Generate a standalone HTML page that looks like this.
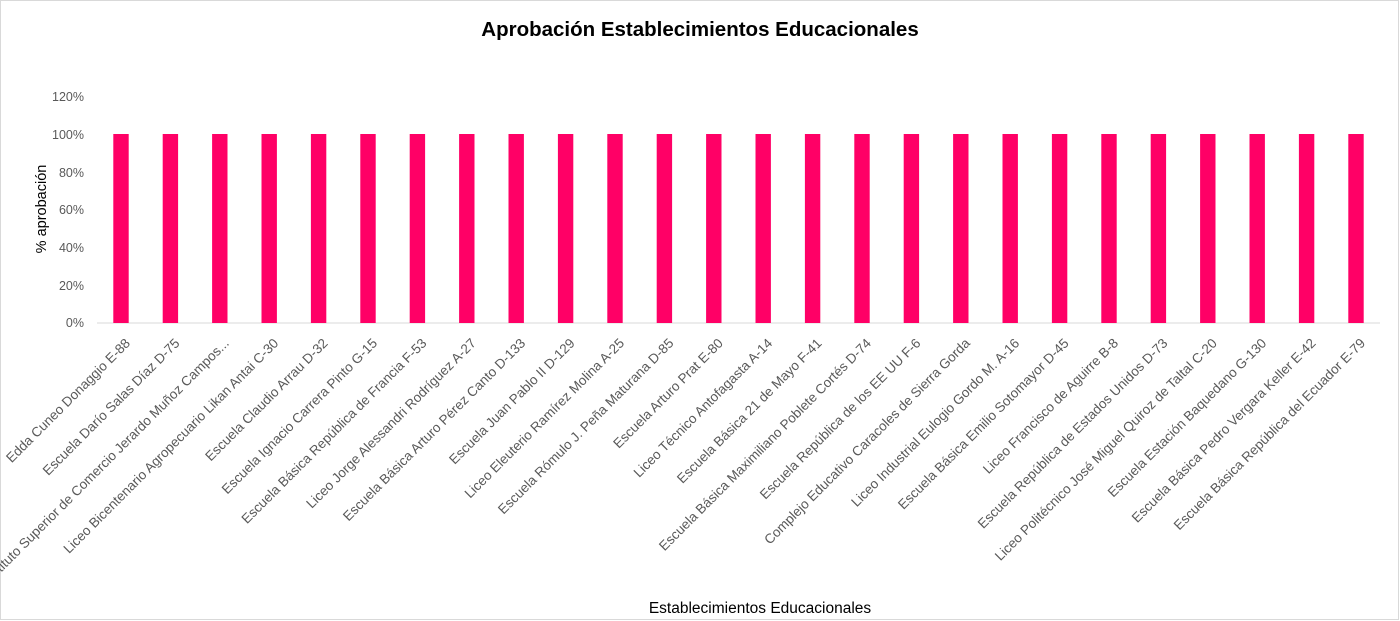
<!DOCTYPE html>
<html><head><meta charset="utf-8"><style>
html,body{margin:0;padding:0;background:#fff}
svg{display:block}
text{font-family:"Liberation Sans",sans-serif}
</style></head><body>
<svg width="1400" height="621" viewBox="0 0 1400 621" xmlns="http://www.w3.org/2000/svg">
<rect x="0.5" y="0.5" width="1398" height="619" fill="#fff" stroke="#d9d9d9"/>
<text x="700" y="36" text-anchor="middle" font-size="20.5" font-weight="bold" fill="#000">Aprobación Establecimientos Educacionales</text>
<g font-size="12.5" fill="#595959" text-anchor="end">
<text x="84" y="101">120%</text>
<text x="84" y="139">100%</text>
<text x="84" y="177">80%</text>
<text x="84" y="214">60%</text>
<text x="84" y="252">40%</text>
<text x="84" y="290">20%</text>
<text x="84" y="327">0%</text>
</g>
<text transform="translate(46,209) rotate(-90)" text-anchor="middle" font-size="14.5" fill="#000">% aprobación</text>
<line x1="97" y1="323" x2="1380" y2="323" stroke="#d9d9d9" stroke-width="1"/>
<g fill="#FF0066" id="bars"></g>
<g font-size="13.5" fill="#595959" text-anchor="end" id="labels"></g>
<text x="760" y="613" text-anchor="middle" font-size="15.5" fill="#000">Establecimientos Educacionales</text>
</svg>
<script>
var names=["Edda Cuneo Donaggio E-88","Escuela Darío Salas Díaz D-75","Instituto Superior de Comercio Jerardo Muñoz Campos...","Liceo Bicentenario Agropecuario Likan Antai C-30","Escuela Claudio Arrau D-32","Escuela Ignacio Carrera Pinto G-15","Escuela Básica República de Francia F-53","Liceo Jorge Alessandri Rodríguez A-27","Escuela Básica Arturo Pérez Canto D-133","Escuela Juan Pablo II D-129","Liceo Eleuterio Ramírez Molina A-25","Escuela Rómulo J. Peña Maturana D-85","Escuela Arturo Prat E-80","Liceo Técnico Antofagasta A-14","Escuela Básica 21 de Mayo F-41","Escuela Básica Maximiliano Poblete Cortés D-74","Escuela República de los EE UU F-6","Complejo Educativo Caracoles de Sierra Gorda","Liceo Industrial Eulogio Gordo M. A-16","Escuela Básica Emilio Sotomayor D-45","Liceo Francisco de Aguirre B-8","Escuela República de Estados Unidos D-73","Liceo Politécnico José Miguel Quiroz de Taltal C-20","Escuela Estación Baquedano G-130","Escuela Básica Pedro Vergara Keller E-42","Escuela Básica República del Ecuador E-79"];
var ns="http://www.w3.org/2000/svg",b=document.getElementById("bars"),l=document.getElementById("labels");
names.forEach(function(n,i){var c=121+i*49.4;
var r=document.createElementNS(ns,"rect");r.setAttribute("x",c-7.7);r.setAttribute("y",134);r.setAttribute("width",15.4);r.setAttribute("height",189);b.appendChild(r);
var t=document.createElementNS(ns,"text");t.setAttribute("transform","translate("+(c+10)+",344) rotate(-45)");t.textContent=n;l.appendChild(t);});
</script>
</body></html>
